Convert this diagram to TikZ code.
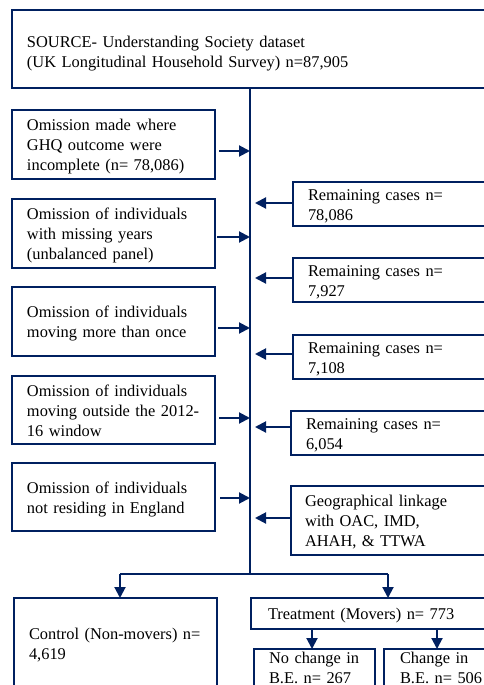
\documentclass[tikz,border=0pt]{standalone}
\usepackage{fontspec}
\setmainfont{Liberation Serif}
\usetikzlibrary{arrows.meta}
\definecolor{navy}{RGB}{0,32,96}
\newcommand{\bxtext}[2][4pt]{\vbox{\kern#1\hbox{\begin{tabular}{@{}l@{}}#2\end{tabular}}}}
\begin{document}
\begin{tikzpicture}[x=1pt,y=-1pt,
 box/.style={draw=navy, line width=2pt, anchor=north west, align=left, inner xsep=15pt, inner ysep=0pt, outer sep=0pt, font=\fontsize{16.4}{20}\selectfont, text=black},
 arr/.style={draw=navy, line width=2pt, -{Triangle[length=11pt,width=11pt]}},
 ln/.style={draw=navy, line width=2pt},
]
\useasboundingbox (0,0) rectangle (484,685);
\clip (0,0) rectangle (484,685);
\fill[white] (0,0) rectangle (484,685);

\node[box, minimum width=500pt, minimum height=78pt, text width=470pt] (src) at (12,10)
 {\bxtext[9pt]{SOURCE- Understanding Society dataset\\(UK Longitudinal Household Survey) n=87,905}};

\node[box, minimum width=203pt, minimum height=69pt, text width=173pt] (o1) at (12,110)
 {\bxtext{Omission made where\\GHQ outcome were\\incomplete (n= 78,086)}};
\node[box, minimum width=203pt, minimum height=69pt, text width=173pt] (o2) at (12,199)
 {\bxtext{Omission of individuals\\with missing years\\(unbalanced panel)}};
\node[box, minimum width=203pt, minimum height=69pt, text width=173pt] (o3) at (12,287)
 {\bxtext{Omission of individuals\\moving more than once}};
\node[box, minimum width=203pt, minimum height=68pt, text width=173pt] (o4) at (12,376)
 {\bxtext{Omission of individuals\\moving outside the 2012-\\16 window}};
\node[box, minimum width=203pt, minimum height=68pt, text width=173pt] (o5) at (12,463)
 {\bxtext{Omission of individuals\\not residing in England}};

\node[box, minimum width=220pt, minimum height=42pt, text width=190pt] (r1) at (293,182)
 {\bxtext{Remaining cases n=\\78,086}};
\node[box, minimum width=220pt, minimum height=42pt, text width=190pt] (r2) at (293,258)
 {\bxtext{Remaining cases n=\\7,927}};
\node[box, minimum width=220pt, minimum height=42pt, text width=190pt] (r3) at (293,335)
 {\bxtext{Remaining cases n=\\7,108}};
\node[box, minimum width=220pt, minimum height=42pt, text width=190pt] (r4) at (291,411)
 {\bxtext{Remaining cases n=\\6,054}};
\node[box, minimum width=220pt, minimum height=69pt, text width=192pt, inner xsep=14pt] (geo) at (291,486)
 {\bxtext{Geographical linkage\\with OAC, IMD,\\AHAH, \& TTWA}};

\node[box, minimum width=203pt, minimum height=90pt, text width=173pt] (ctrl) at (14,598)
 {\bxtext{Control (Non-movers) n=\\4,619}};
\node[box, minimum width=260pt, minimum height=31pt, text width=226pt, inner xsep=17pt] (treat) at (251,598)
 {\bxtext{Treatment (Movers) n= 773}};
\node[box, minimum width=121pt, minimum height=38pt, text width=91pt] (nc) at (254,649)
 {\bxtext[0pt]{No change in\\B.E. n= 267}};
\node[box, minimum width=130pt, minimum height=38pt, text width=98pt, inner xsep=16pt] (ch) at (384,649)
 {\bxtext[0pt]{Change in\\B.E. n= 506}};

% main trunk
\coordinate (split) at (250,574);
\draw[ln] (src.south -| split) -- (split);

% left arrows
\path ([shift={(4,6.5)}]o1.east) coordinate (a1);
\path ([shift={(2,3.5)}]o2.east) coordinate (a2);
\path ([shift={(3,6.5)}]o3.east) coordinate (a3);
\path ([shift={(4,8)}]o4.east) coordinate (a4);
\path ([shift={(5,1)}]o5.east) coordinate (a5);
\foreach \a in {a1,a2,a3,a4,a5} \draw[arr] (\a) -- (\a -| split);

% right arrows
\path ([yshift=1]r1.west) coordinate (b1);
\path ([yshift=2]r2.west) coordinate (b2);
\path ([yshift=3]r3.west) coordinate (b3);
\path ([yshift=6]r4.west) coordinate (b4);
\path ([yshift=2.5]geo.west) coordinate (b5);
\foreach \b in {b1,b2,b3,b4,b5} \draw[arr, shorten >=5pt] (\b) -- (\b -| split);

% split
\coordinate (cl) at (120,574);
\coordinate (cr) at (388,574);
\draw[ln] (cl) -- (cr);
\draw[arr] (cl) -- (cl |- ctrl.north);
\draw[arr] (cr) -- (cr |- treat.north);

% treatment split
\coordinate (tl) at (312,629);
\coordinate (tr) at (437,629);
\draw[arr] (tl) -- (tl |- nc.north);
\draw[arr] (tr) -- (tr |- ch.north);
\end{tikzpicture}
\end{document}
